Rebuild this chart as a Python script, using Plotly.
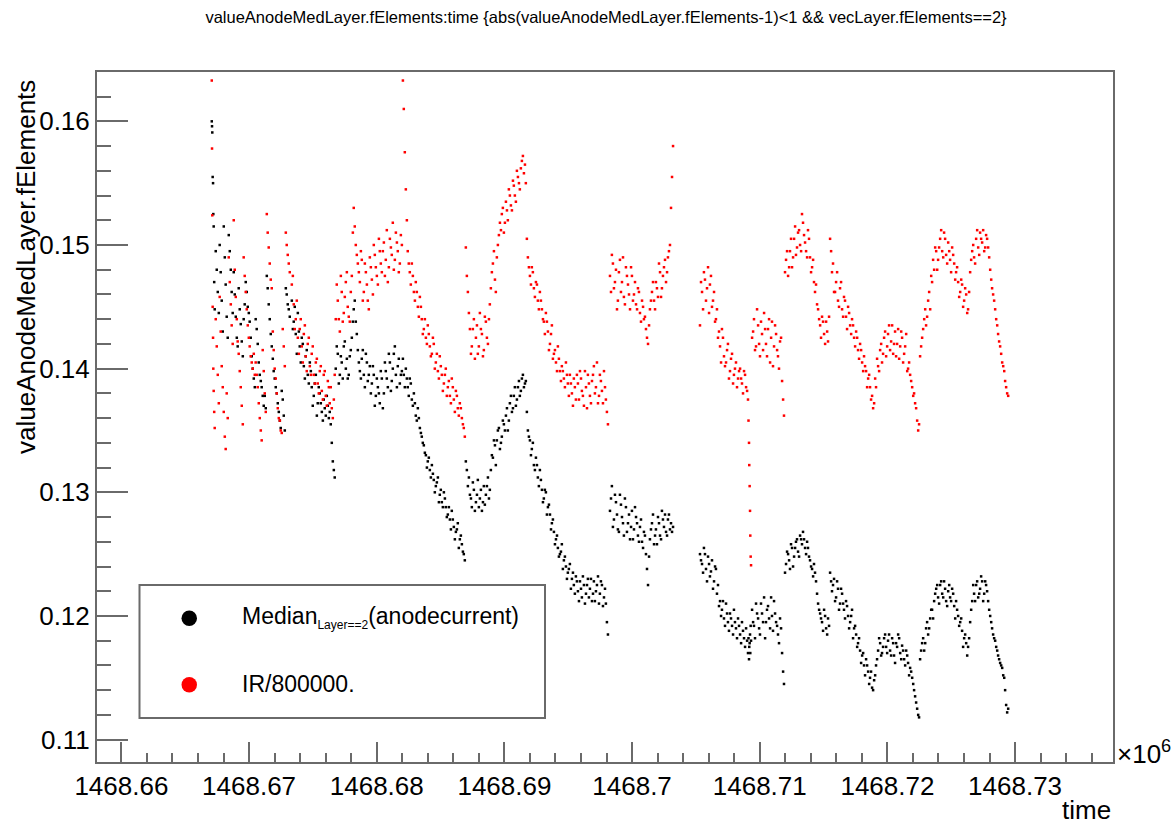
import plotly.graph_objects as go

# ---------------- data (time in units of 10^6 s) ----------------
time = [
    1468.66708, 1468.66710, 1468.66712, 1468.66715, 1468.66718, 1468.66720, 1468.66723, 1468.66727, 1468.66731,
    1468.66739, 1468.66747, 1468.66755, 1468.66763, 1468.66770, 1468.66778, 1468.66786, 1468.66794,
    1468.66802, 1468.66810, 1468.66817, 1468.66825, 1468.66833, 1468.66841, 1468.66849, 1468.66857, 1468.66864, 1468.66872,
    1468.66880, 1468.66888, 1468.66896, 1468.66904, 1468.66911, 1468.66919, 1468.66927, 1468.66935, 1468.66943, 1468.66951,
    1468.66958, 1468.66966, 1468.66974, 1468.66982, 1468.66990, 1468.66998, 1468.67005, 1468.67013, 1468.67021, 1468.67029,
    1468.67037, 1468.67045, 1468.67052, 1468.67060, 1468.67068, 1468.67076, 1468.67084, 1468.67092, 1468.67099, 1468.67107,
    1468.67115, 1468.67123, 1468.67131, 1468.67139, 1468.67146, 1468.67154, 1468.67162, 1468.67170, 1468.67178, 1468.67186,
    1468.67193, 1468.67201, 1468.67209, 1468.67217, 1468.67225, 1468.67233, 1468.67241, 1468.67248, 1468.67256, 1468.67264,
    1468.67272, 1468.67280, 1468.67288, 1468.67295, 1468.67303, 1468.67311, 1468.67319,
    # S2
    1468.67335, 1468.67350, 1468.67366, 1468.67382, 1468.67397, 1468.67413, 1468.67429, 1468.67444, 1468.67460, 1468.67476,
    1468.67491, 1468.67507, 1468.67523, 1468.67538, 1468.67554, 1468.67570, 1468.67585, 1468.67601, 1468.67617, 1468.67632,
    1468.67640, 1468.67648, 1468.67656, 1468.67664, 1468.67671, 1468.67679, 1468.67695, 1468.67711, 1468.67726, 1468.67742,
    1468.67758, 1468.67773, 1468.67789, 1468.67805, 1468.67820, 1468.67828, 1468.67836, 1468.67852, 1468.67868, 1468.67883,
    1468.67899, 1468.67915, 1468.67930, 1468.67946, 1468.67962, 1468.67977, 1468.67993, 1468.68009, 1468.68024, 1468.68040,
    1468.68056, 1468.68071, 1468.68087, 1468.68103, 1468.68118, 1468.68134, 1468.68150, 1468.68165, 1468.68181, 1468.68197,
    1468.68205, 1468.68212, 1468.68220, 1468.68228, 1468.68236,
    # S3
    1468.68243, 1468.68259, 1468.68275, 1468.68291, 1468.68306, 1468.68322, 1468.68338, 1468.68353, 1468.68369, 1468.68385,
    1468.68400, 1468.68416, 1468.68432, 1468.68447, 1468.68463, 1468.68479, 1468.68494, 1468.68510, 1468.68526, 1468.68541,
    1468.68557, 1468.68573, 1468.68588, 1468.68604, 1468.68620, 1468.68635, 1468.68651, 1468.68667, 1468.68682, 1468.68690,
    1468.68698, 1468.68706, 1468.68714, 1468.68730, 1468.68745, 1468.68761, 1468.68777, 1468.68792, 1468.68808, 1468.68824,
    1468.68839, 1468.68855, 1468.68871, 1468.68886, 1468.68902, 1468.68918, 1468.68933, 1468.68949, 1468.68965,
    # S4
    1468.68980, 1468.68996, 1468.69012, 1468.69027, 1468.69043, 1468.69059, 1468.69074, 1468.69090, 1468.69106, 1468.69121,
    1468.69137, 1468.69145, 1468.69153, 1468.69168, 1468.69176, 1468.69184, 1468.69200, 1468.69215, 1468.69231, 1468.69247,
    1468.69262, 1468.69278, 1468.69294, 1468.69309, 1468.69325, 1468.69341, 1468.69357, 1468.69372, 1468.69388, 1468.69404,
    1468.69419, 1468.69435, 1468.69450, 1468.69466, 1468.69482, 1468.69497, 1468.69513, 1468.69529, 1468.69544, 1468.69560,
    1468.69576, 1468.69592, 1468.69607, 1468.69623, 1468.69639, 1468.69654, 1468.69670, 1468.69686, 1468.69701, 1468.69717,
    1468.69733, 1468.69748, 1468.69764, 1468.69780, 1468.69795, 1468.69803, 1468.69811,
    # S5
    1468.69827, 1468.69842, 1468.69858, 1468.69874, 1468.69889, 1468.69905, 1468.69921, 1468.69936, 1468.69952, 1468.69968,
    1468.69984, 1468.69999, 1468.70015, 1468.70031, 1468.70046, 1468.70062, 1468.70078, 1468.70093, 1468.70109, 1468.70117,
    1468.70125, 1468.70140, 1468.70156, 1468.70172, 1468.70187, 1468.70203, 1468.70219, 1468.70234, 1468.70250, 1468.70266,
    1468.70281, 1468.70297, 1468.70305, 1468.70313, 1468.70321,
    # S6
    1468.70532, 1468.70548, 1468.70563, 1468.70579, 1468.70595, 1468.70610, 1468.70626, 1468.70642, 1468.70657, 1468.70673,
    1468.70689, 1468.70704, 1468.70720, 1468.70736, 1468.70751, 1468.70767, 1468.70783, 1468.70798, 1468.70814, 1468.70830,
    1468.70846, 1468.70861, 1468.70877, 1468.70893, 1468.70908, 1468.70912, 1468.70916, 1468.70918, 1468.70921, 1468.70924,
    1468.70926, 1468.70929, 1468.70932, 1468.70940, 1468.70955, 1468.70971, 1468.70987, 1468.71002, 1468.71018, 1468.71034,
    1468.71049, 1468.71065, 1468.71081, 1468.71096, 1468.71112, 1468.71128, 1468.71143, 1468.71159, 1468.71175, 1468.71183,
    1468.71190,
    # S7
    1468.71206, 1468.71222, 1468.71237, 1468.71253, 1468.71269, 1468.71284, 1468.71300, 1468.71316, 1468.71331, 1468.71347,
    1468.71363, 1468.71378, 1468.71394, 1468.71410, 1468.71425, 1468.71441, 1468.71457, 1468.71473, 1468.71488, 1468.71504,
    1468.71520, 1468.71535, 1468.71551, 1468.71559, 1468.71566, 1468.71582, 1468.71598, 1468.71613, 1468.71629, 1468.71645,
    1468.71660, 1468.71676, 1468.71692, 1468.71708, 1468.71723, 1468.71739, 1468.71755, 1468.71770, 1468.71786, 1468.71802,
    1468.71817, 1468.71833, 1468.71849, 1468.71864, 1468.71880, 1468.71896, 1468.71911, 1468.71927, 1468.71943, 1468.71958,
    1468.71974, 1468.71990,
    # S8
    1468.72005, 1468.72021, 1468.72037, 1468.72052, 1468.72068, 1468.72084, 1468.72100, 1468.72115, 1468.72131, 1468.72147,
    1468.72162, 1468.72178, 1468.72194, 1468.72209, 1468.72225, 1468.72233, 1468.72241, 1468.72248, 1468.72256, 1468.72272,
    1468.72288, 1468.72303, 1468.72319, 1468.72335, 1468.72350, 1468.72366, 1468.72382, 1468.72397, 1468.72413, 1468.72429,
    1468.72444, 1468.72460, 1468.72476, 1468.72491, 1468.72507, 1468.72523, 1468.72538, 1468.72554, 1468.72570, 1468.72585,
    1468.72601, 1468.72617, 1468.72632, 1468.72648, 1468.72664, 1468.72679, 1468.72695, 1468.72711, 1468.72726, 1468.72742,
    1468.72758, 1468.72773, 1468.72789, 1468.72805, 1468.72820, 1468.72836, 1468.72852, 1468.72867, 1468.72883, 1468.72899,
    1468.72915, 1468.72922, 1468.72930, 1468.72938, 1468.72946,
    # interleaved samples S2
    1468.67343, 1468.67358, 1468.67374, 1468.67390, 1468.67405, 1468.67421, 1468.67437, 1468.67452, 1468.67468, 1468.67484,
    1468.67499, 1468.67515, 1468.67531, 1468.67546, 1468.67562, 1468.67578, 1468.67593, 1468.67609, 1468.67625,
    1468.67687, 1468.67703, 1468.67719, 1468.67734, 1468.67750, 1468.67766, 1468.67781, 1468.67797, 1468.67813,
    1468.67844, 1468.67860, 1468.67876, 1468.67891, 1468.67907, 1468.67923, 1468.67938, 1468.67954, 1468.67970, 1468.67985,
    1468.68001, 1468.68017, 1468.68032, 1468.68048, 1468.68064, 1468.68079, 1468.68095, 1468.68111, 1468.68126, 1468.68142,
    1468.68158, 1468.68173, 1468.68189,
    # interleaved samples S3
    1468.68251, 1468.68267, 1468.68283, 1468.68299, 1468.68314, 1468.68330, 1468.68346, 1468.68361, 1468.68377, 1468.68393,
    1468.68408, 1468.68424, 1468.68440, 1468.68455, 1468.68471, 1468.68487, 1468.68502, 1468.68518, 1468.68534, 1468.68549,
    1468.68565, 1468.68581, 1468.68596, 1468.68612, 1468.68628, 1468.68643, 1468.68659, 1468.68675,
    1468.68722, 1468.68738, 1468.68753, 1468.68769, 1468.68785, 1468.68800, 1468.68816, 1468.68832, 1468.68847, 1468.68863,
    1468.68879, 1468.68894, 1468.68910, 1468.68926, 1468.68941, 1468.68957,
    # interleaved samples S4
    1468.68973, 1468.68988, 1468.69004, 1468.69020, 1468.69035, 1468.69051, 1468.69067, 1468.69082, 1468.69098, 1468.69114,
    1468.69129, 1468.69161,
    1468.69192, 1468.69208, 1468.69223, 1468.69239, 1468.69255, 1468.69270, 1468.69286, 1468.69302, 1468.69317, 1468.69333,
    1468.69349, 1468.69365, 1468.69380, 1468.69396, 1468.69412, 1468.69427, 1468.69443, 1468.69458, 1468.69474, 1468.69490,
    1468.69505, 1468.69521, 1468.69537, 1468.69552, 1468.69568, 1468.69584, 1468.69600, 1468.69615, 1468.69631, 1468.69647,
    1468.69662, 1468.69678, 1468.69694, 1468.69709, 1468.69725, 1468.69741, 1468.69756, 1468.69772, 1468.69788,
    # interleaved samples S5
    1468.69835, 1468.69850, 1468.69866, 1468.69882, 1468.69897, 1468.69913, 1468.69929, 1468.69944, 1468.69960, 1468.69976,
    1468.69992, 1468.70007, 1468.70023, 1468.70039, 1468.70054, 1468.70070, 1468.70086, 1468.70101,
    1468.70133, 1468.70148, 1468.70164, 1468.70180, 1468.70195, 1468.70211, 1468.70227, 1468.70242, 1468.70258, 1468.70274,
    1468.70289,
    # interleaved samples S6
    1468.70540, 1468.70556, 1468.70571, 1468.70587, 1468.70603, 1468.70618, 1468.70634, 1468.70650, 1468.70665, 1468.70681,
    1468.70697, 1468.70712, 1468.70728, 1468.70744, 1468.70759, 1468.70775, 1468.70791, 1468.70806, 1468.70822, 1468.70838,
    1468.70854, 1468.70869, 1468.70885, 1468.70901,
    1468.70948, 1468.70963, 1468.70979, 1468.70995, 1468.71010, 1468.71026, 1468.71042, 1468.71057, 1468.71073, 1468.71089,
    1468.71104, 1468.71120, 1468.71136, 1468.71151, 1468.71167,
    # interleaved samples S7
    1468.71198, 1468.71214, 1468.71230, 1468.71245, 1468.71261, 1468.71277, 1468.71292, 1468.71308, 1468.71324, 1468.71339,
    1468.71355, 1468.71371, 1468.71386, 1468.71402, 1468.71418, 1468.71433, 1468.71449, 1468.71465, 1468.71480, 1468.71496,
    1468.71512, 1468.71528, 1468.71543,
    1468.71574, 1468.71590, 1468.71606, 1468.71621, 1468.71637, 1468.71653, 1468.71668, 1468.71684, 1468.71700, 1468.71716,
    1468.71731, 1468.71747, 1468.71763, 1468.71778, 1468.71794, 1468.71810, 1468.71825, 1468.71841, 1468.71857, 1468.71872,
    1468.71888, 1468.71904, 1468.71919, 1468.71935, 1468.71951, 1468.71966, 1468.71982,
    # interleaved samples S8
    1468.71998, 1468.72013, 1468.72029, 1468.72045, 1468.72060, 1468.72076, 1468.72092, 1468.72108, 1468.72123, 1468.72139,
    1468.72155, 1468.72170, 1468.72186, 1468.72202, 1468.72217,
    1468.72264, 1468.72280, 1468.72296, 1468.72311, 1468.72327, 1468.72343, 1468.72358, 1468.72374, 1468.72390, 1468.72405,
    1468.72421, 1468.72437, 1468.72452, 1468.72468, 1468.72484, 1468.72499, 1468.72515, 1468.72531, 1468.72546, 1468.72562,
    1468.72578, 1468.72593, 1468.72609, 1468.72625, 1468.72640, 1468.72656, 1468.72672, 1468.72687, 1468.72703, 1468.72719,
    1468.72734, 1468.72750, 1468.72766, 1468.72781, 1468.72797, 1468.72813, 1468.72828, 1468.72844, 1468.72860, 1468.72875,
    1468.72891, 1468.72907,
]

median_anode = [
    .1600, .1596, .1591, .1555, .1550, .1525, .1515, .1470, .1448,
    .1495, .1480, .1462, .1445, .1500, .1478, .1455, .1430,
    .1515, .1490, .1468, .1442, .1425, .1508, .1495, .1480, .1462, .1445,
    .1478, .1460, .1442, .1425, .1418, .1465, .1448, .1436, .1422, .1410,
    .1440, .1452, .1470, .1462, .1450, .1445, .1438, .1425, .1410, .1400,
    .1392, .1385, .1440, .1432, .1420, .1405, .1395, .1390, .1385, .1378,
    .1370, .1378, .1368, .1475, .1465, .1452, .1440, .1428, .1418, .1408,
    .1398, .1392, .1385, .1380, .1372, .1365, .1358, .1352, .1382, .1375,
    .1362, .1350, .1465, .1460, .1452, .1448, .1442,
    # S2
    .1455, .1438, .1428, .1445, .1418, .1425, .1402, .1410, .1395, .1405,
    .1385, .1378, .1395, .1372, .1380, .1365, .1375, .1362, .1370, .1365,
    .1355, .1340, .1325, .1318, .1312, .1400, .1412, .1395, .1405, .1418,
    .1400, .1392, .1410, .1425, .1448, .1455, .1438, .1415, .1398, .1408,
    .1395, .1412, .1390, .1402, .1388, .1395, .1378, .1385, .1372, .1392,
    .1380, .1398, .1385, .1405, .1390, .1412, .1395, .1402, .1388, .1398,
    .1408, .1395, .1385, .1400, .1392,
    # S3
    .1385, .1392, .1375, .1380, .1362, .1368, .1352, .1345, .1338, .1330,
    .1325, .1318, .1322, .1310, .1305, .1312, .1298, .1292, .1300, .1288,
    .1282, .1278, .1285, .1272, .1268, .1275, .1262, .1258, .1250, .1245,
    .1325, .1318, .1305, .1298, .1288, .1302, .1292, .1310, .1295, .1285,
    .1305, .1298, .1312, .1302, .1330, .1342, .1322, .1350, .1335,
    # S4
    .1345, .1355, .1362, .1350, .1372, .1365, .1378, .1370, .1385, .1378,
    .1392, .1395, .1385, .1390, .1365, .1350, .1342, .1335, .1322, .1328,
    .1312, .1318, .1302, .1295, .1300, .1288, .1282, .1275, .1268, .1262,
    .1255, .1250, .1258, .1245, .1240, .1235, .1242, .1230, .1225, .1232,
    .1220, .1228, .1215, .1225, .1218, .1230, .1222, .1212, .1228, .1220,
    .1232, .1218, .1225, .1215, .1210, .1195, .1185,
    # S5
    .1285, .1305, .1278, .1292, .1270, .1298, .1280, .1265, .1288, .1275,
    .1262, .1285, .1270, .1280, .1265, .1272, .1260, .1268, .1250, .1238,
    .1225, .1262, .1275, .1258, .1270, .1280, .1265, .1285, .1272, .1268,
    .1278, .1270, .1275, .1268, .1272,
    # S6
    .1250, .1242, .1255, .1238, .1248, .1232, .1245, .1228, .1238, .1225,
    .1212, .1205, .1198, .1210, .1195, .1202, .1192, .1205, .1190, .1198,
    .1185, .1195, .1182, .1190, .1170, .1182, .1165, .1175, .1178, .1185,
    .1170, .1192, .1180, .1205, .1192, .1210, .1198, .1185, .1202, .1215,
    .1195, .1208, .1190, .1200, .1212, .1195, .1185, .1198, .1170, .1155,
    .1145,
    # S7
    .1242, .1250, .1238, .1255, .1248, .1260, .1252, .1265, .1258, .1262,
    .1250, .1255, .1245, .1238, .1242, .1228, .1210, .1202, .1195, .1205,
    .1190, .1198, .1235, .1228, .1220, .1230, .1215, .1222, .1210, .1218,
    .1205, .1212, .1200, .1195, .1205, .1190, .1185, .1178, .1172, .1168,
    .1160, .1165, .1155, .1150, .1142, .1148, .1160, .1172, .1178, .1170,
    .1182, .1175,
    # S8
    .1180, .1172, .1182, .1168, .1178, .1185, .1170, .1176, .1165, .1172,
    .1162, .1158, .1150, .1140, .1130, .1125, .1120, .1118, .1165, .1178,
    .1172, .1190, .1185, .1198, .1205, .1212, .1222, .1215, .1225, .1218,
    .1228, .1212, .1220, .1215, .1222, .1208, .1212, .1200, .1195, .1188,
    .1182, .1178, .1175, .1195, .1212, .1218, .1225, .1215, .1222, .1228,
    .1218, .1225, .1212, .1200, .1190, .1182, .1175, .1168, .1162, .1158,
    .1150, .1140, .1128, .1122, .1125,
    # interleaved samples S2
    .1432, .1450, .1412, .1430, .1405, .1420, .1392, .1415, .1388, .1398,
    .1370, .1388, .1362, .1385, .1372, .1358, .1368, .1378, .1360,
    .1418, .1388, .1410, .1392, .1422, .1408, .1395, .1415, .1438,
    .1428, .1405, .1392, .1415, .1385, .1405, .1395, .1380, .1402, .1370,
    .1392, .1380, .1398, .1368, .1405, .1392, .1412, .1382, .1400, .1418,
    .1385, .1408, .1395,
    # interleaved samples S3
    .1378, .1388, .1370, .1372, .1358, .1360, .1348, .1340, .1332, .1320,
    .1328, .1312, .1315, .1300, .1308, .1292, .1302, .1288, .1295, .1280,
    .1288, .1270, .1278, .1262, .1270, .1255, .1265, .1252,
    .1312, .1295, .1308, .1285, .1298, .1288, .1302, .1292, .1290, .1305,
    .1295, .1318, .1328, .1338, .1342, .1352,
    # interleaved samples S4
    .1340, .1358, .1350, .1368, .1358, .1378, .1368, .1385, .1375, .1390,
    .1382, .1388,
    .1345, .1330, .1340, .1318, .1322, .1305, .1310, .1292, .1302, .1282,
    .1290, .1270, .1278, .1258, .1265, .1248, .1252, .1238, .1248, .1230,
    .1238, .1222, .1235, .1218, .1228, .1212, .1222, .1232, .1210, .1225,
    .1215, .1230, .1218, .1212, .1225, .1210, .1228, .1208, .1222,
    # interleaved samples S5
    .1295, .1272, .1298, .1282, .1268, .1290, .1275, .1295, .1268, .1282,
    .1272, .1262, .1288, .1275, .1260, .1278, .1255, .1265,
    .1248, .1270, .1282, .1265, .1258, .1275, .1262, .1278, .1282, .1265,
    .1282,
    # interleaved samples S6
    .1245, .1235, .1250, .1228, .1242, .1236, .1222, .1240, .1218, .1208,
    .1200, .1212, .1192, .1202, .1188, .1198, .1185, .1195, .1182, .1192,
    .1178, .1188, .1175, .1180,
    .1195, .1182, .1202, .1190, .1210, .1195, .1182, .1205, .1198, .1215,
    .1188, .1202, .1192, .1178, .1190,
    # interleaved samples S7
    .1235, .1252, .1245, .1258, .1240, .1255, .1262, .1248, .1262, .1268,
    .1255, .1260, .1248, .1240, .1232, .1235, .1218, .1205, .1198, .1188,
    .1200, .1185, .1192,
    .1225, .1212, .1228, .1205, .1222, .1210, .1198, .1208, .1190, .1200,
    .1182, .1192, .1175, .1182, .1162, .1170, .1152, .1160, .1145, .1155,
    .1140, .1152, .1165, .1182, .1168, .1175, .1185,
    # interleaved samples S8
    .1170, .1185, .1168, .1178, .1162, .1175, .1182, .1165, .1172, .1160,
    .1168, .1152, .1155, .1145, .1135,
    .1172, .1182, .1178, .1195, .1190, .1205, .1198, .1218, .1225, .1210,
    .1228, .1215, .1222, .1208, .1225, .1212, .1218, .1198, .1205, .1192,
    .1198, .1175, .1185, .1168, .1182, .1205, .1225, .1212, .1228, .1218,
    .1232, .1212, .1228, .1220, .1205, .1195, .1185, .1180, .1172, .1165,
    .1160, .1152,
]

ir_scaled = [
    .1633, .1578, .1524, .1450, .1425, .1400, .1382, .1365, .1352,
    .1440, .1418, .1395, .1372, .1458, .1430, .1402, .1385,
    .1365, .1345, .1335, .1380, .1360, .1490, .1470, .1452, .1435, .1420,
    .1520, .1480, .1458, .1440, .1422, .1412, .1398, .1385, .1370, .1355,
    .1490, .1475, .1462, .1448, .1435, .1425, .1418, .1410, .1405, .1400,
    .1412, .1395, .1405, .1395, .1385, .1372, .1360, .1350, .1342, .1415,
    .1398, .1380, .1365, .1525, .1510, .1498, .1485, .1472, .1465, .1430,
    .1415, .1400, .1392, .1380, .1368, .1360, .1358, .1350, .1348, .1432,
    .1418, .1402, .1510, .1500, .1492, .1485, .1478,
    # S2
    .1468, .1452, .1440, .1425, .1432, .1418, .1428, .1410, .1420, .1402,
    .1412, .1395, .1405, .1388, .1398, .1382, .1395, .1378, .1390, .1372,
    .1385, .1368, .1360, .1375, .1395, .1440, .1455, .1430, .1462, .1445,
    .1470, .1450, .1438, .1475, .1530, .1515, .1500, .1485, .1470, .1488,
    .1462, .1478, .1455, .1490, .1472, .1500, .1482, .1468, .1495, .1478,
    .1502, .1488, .1470, .1505, .1492, .1480, .1510, .1495, .1485, .1500,
    .1633, .1610, .1575, .1545, .1520,
    # S3
    .1495, .1478, .1485, .1462, .1470, .1450, .1458, .1440, .1432, .1425,
    .1435, .1418, .1412, .1420, .1405, .1398, .1410, .1395, .1388, .1400,
    .1385, .1378, .1392, .1375, .1382, .1368, .1372, .1360, .1352, .1345,
    .1498, .1475, .1462, .1432, .1418, .1440, .1425, .1412, .1445, .1428,
    .1415, .1438, .1420, .1452, .1478, .1495, .1462, .1500, .1518,
    # S4
    .1525, .1510, .1535, .1520, .1540, .1528, .1548, .1535, .1555, .1545,
    .1568, .1572, .1558, .1550, .1505, .1490, .1475, .1482, .1465, .1470,
    .1455, .1462, .1448, .1438, .1445, .1430, .1420, .1435, .1412, .1405,
    .1418, .1398, .1402, .1392, .1405, .1388, .1395, .1380, .1392, .1375,
    .1388, .1398, .1382, .1370, .1385, .1395, .1378, .1390, .1402, .1385,
    .1372, .1395, .1382, .1398, .1375, .1365, .1355,
    # S5
    .1475, .1492, .1465, .1480, .1455, .1488, .1470, .1458, .1482, .1468,
    .1448, .1475, .1460, .1452, .1465, .1445, .1455, .1440, .1432, .1425,
    .1420, .1448, .1462, .1455, .1470, .1458, .1478, .1465, .1482, .1470,
    .1490, .1500, .1530, .1555, .1580,
    # S6
    .1435, .1462, .1478, .1455, .1482, .1468, .1450, .1462, .1440, .1425,
    .1418, .1432, .1410, .1405, .1420, .1398, .1412, .1395, .1405, .1392,
    .1400, .1388, .1398, .1385, .1375, .1358, .1340, .1322, .1305, .1285,
    .1265, .1248, .1241, .1425, .1440, .1418, .1435, .1410, .1428, .1445,
    .1420, .1432, .1405, .1438, .1418, .1428, .1410, .1422, .1390, .1375,
    .1362,
    # S7
    .1488, .1475, .1495, .1482, .1505, .1492, .1510, .1500, .1525, .1508,
    .1495, .1512, .1490, .1482, .1470, .1468, .1448, .1435, .1442, .1428,
    .1438, .1422, .1505, .1495, .1478, .1462, .1470, .1455, .1465, .1448,
    .1458, .1442, .1450, .1435, .1440, .1425, .1430, .1415, .1420, .1405,
    .1410, .1398, .1392, .1385, .1378, .1372, .1385, .1402, .1415, .1405,
    .1425, .1410,
    # S8
    .1428, .1415, .1435, .1420, .1410, .1432, .1418, .1425, .1412, .1428,
    .1400, .1395, .1385, .1380, .1368, .1358, .1350, .1355, .1410, .1425,
    .1440, .1435, .1455, .1448, .1470, .1480, .1495, .1488, .1505, .1495,
    .1510, .1492, .1502, .1488, .1498, .1485, .1478, .1470, .1462, .1468,
    .1455, .1460, .1448, .1478, .1495, .1490, .1505, .1498, .1510, .1502,
    .1495, .1508, .1498, .1480, .1465, .1455, .1440, .1428, .1418, .1405,
    .1398, .1390, .1385, .1380, .1378,
    # interleaved samples S2
    .1475, .1432, .1455, .1412, .1440, .1405, .1435, .1398, .1425, .1395,
    .1418, .1388, .1408, .1380, .1402, .1375, .1398, .1370, .1385,
    .1468, .1440, .1475, .1438, .1458, .1478, .1442, .1462, .1510,
    .1492, .1478, .1495, .1455, .1485, .1468, .1448, .1482, .1460, .1492,
    .1475, .1505, .1485, .1495, .1475, .1512, .1482, .1498, .1518, .1488,
    .1502, .1478, .1508,
    # interleaved samples S3
    .1485, .1468, .1475, .1455, .1462, .1442, .1450, .1428, .1440, .1420,
    .1428, .1410, .1425, .1400, .1412, .1392, .1402, .1382, .1395, .1378,
    .1390, .1372, .1385, .1365, .1378, .1362, .1368, .1355,
    .1445, .1412, .1432, .1408, .1435, .1418, .1432, .1410, .1442, .1425,
    .1440, .1465, .1485, .1472, .1490, .1508,
    # interleaved samples S4
    .1512, .1530, .1518, .1528, .1545, .1532, .1552, .1540, .1560, .1550,
    .1562, .1565,
    .1482, .1468, .1478, .1458, .1468, .1448, .1455, .1440, .1428, .1438,
    .1415, .1428, .1408, .1415, .1398, .1408, .1390, .1398, .1385, .1395,
    .1378, .1388, .1370, .1385, .1395, .1375, .1392, .1378, .1398, .1368,
    .1388, .1372, .1395, .1380, .1405, .1378, .1390, .1372, .1385,
    # interleaved samples S5
    .1462, .1485, .1470, .1448, .1478, .1462, .1490, .1452, .1475, .1460,
    .1482, .1455, .1470, .1448, .1462, .1438, .1450, .1442,
    .1435, .1455, .1470, .1448, .1465, .1485, .1458, .1475, .1488, .1478,
    .1495,
    # interleaved samples S6
    .1470, .1448, .1472, .1465, .1445, .1475, .1455, .1438, .1448, .1430,
    .1405, .1425, .1402, .1415, .1392, .1408, .1388, .1400, .1385, .1398,
    .1392, .1380, .1395, .1382,
    .1430, .1415, .1448, .1420, .1438, .1415, .1432, .1410, .1440, .1425,
    .1402, .1435, .1415, .1400, .1425,
    # interleaved samples S7
    .1478, .1495, .1482, .1505, .1490, .1515, .1498, .1512, .1495, .1518,
    .1502, .1490, .1505, .1478, .1488, .1462, .1452, .1440, .1425, .1438,
    .1420, .1430, .1442,
    .1485, .1462, .1478, .1450, .1470, .1442, .1455, .1432, .1445, .1428,
    .1435, .1418, .1425, .1408, .1415, .1398, .1402, .1385, .1395, .1375,
    .1368, .1392, .1408, .1398, .1420, .1412, .1430,
    # interleaved samples S8
    .1418, .1435, .1422, .1412, .1430, .1420, .1408, .1430, .1405, .1418,
    .1398, .1405, .1390, .1378, .1372,
    .1418, .1432, .1448, .1442, .1462, .1475, .1488, .1498, .1480, .1498,
    .1512, .1490, .1505, .1485, .1495, .1478, .1492, .1472, .1482, .1458,
    .1472, .1450, .1465, .1445, .1462, .1488, .1500, .1485, .1512, .1492,
    .1505, .1512, .1498, .1505, .1490, .1472, .1460, .1448, .1435, .1422,
    .1412, .1402,
]

assert len(time) == len(median_anode) == len(ir_scaled), (len(time), len(median_anode), len(ir_scaled))

x_tickvals = [1468.66, 1468.67, 1468.68, 1468.69, 1468.70, 1468.71, 1468.72, 1468.73]
x_ticktext = ["1468.66", "1468.67", "1468.68", "1468.69", "1468.7", "1468.71", "1468.72", "1468.73"]
y_tickvals = [0.11, 0.12, 0.13, 0.14, 0.15, 0.16]
y_ticktext = ["0.11", "0.12", "0.13", "0.14", "0.15", "0.16"]
x_range = [1468.65809, 1468.73767]
y_range = [0.10819, 0.16399]

series_names = ["Median<sub>Layer==2</sub>(anodecurrent)", "IR/800000."]
series_colors = ["#000000", "#ff0000"]

# ---------------- layout geometry ----------------
W, H = 1174, 825
ML, MR, MT, MB = 97, 61, 72, 63
PW, PH = W - ML - MR, H - MT - MB
FONT = "Liberation Sans, Arial, Helvetica, sans-serif"
FRAME = "#6a6a6a"


def pxx(x):
    return (x - ML) / PW


def pxy(y):
    return (H - MB - y) / PH


fig = go.Figure()
fig.add_trace(go.Scatter(x=time, y=median_anode, mode="markers", name=series_names[0],
                         marker=dict(color=series_colors[0], size=2.5, symbol="square"),
                         showlegend=False))
fig.add_trace(go.Scatter(x=time, y=ir_scaled, mode="markers", name=series_names[1],
                         marker=dict(color=series_colors[1], size=2.5, symbol="square"),
                         showlegend=False))

axis_common = dict(showline=True, mirror=True, linecolor=FRAME, linewidth=2,
                   showgrid=False, zeroline=False, ticks="inside", tickcolor=FRAME, tickwidth=2,
                   tickfont=dict(family=FONT, size=26, color="#000"))

fig.update_xaxes(range=x_range, tickvals=x_tickvals, ticktext=x_ticktext, ticklen=20,
                 minor=dict(dtick=0.002, tick0=1468.66, ticklen=9, tickwidth=2, tickcolor=FRAME,
                            ticks="inside", showgrid=False),
                 **axis_common)
fig.update_yaxes(range=y_range, tickvals=y_tickvals, ticktext=y_ticktext, ticklen=31,
                 minor=dict(dtick=0.002, tick0=0.11, ticklen=14, tickwidth=2, tickcolor=FRAME,
                            ticks="inside", showgrid=False),
                 **axis_common)

shapes = [
    dict(type="rect", xref="paper", yref="paper", x0=pxx(139.5), x1=pxx(545), y0=pxy(718), y1=pxy(585),
         line=dict(color=FRAME, width=2), fillcolor="white", layer="above"),
    dict(type="circle", xref="paper", yref="paper", x0=pxx(181.5), x1=pxx(197), y0=pxy(626), y1=pxy(610.5),
         line=dict(width=0), fillcolor=series_colors[0], layer="above"),
    dict(type="circle", xref="paper", yref="paper", x0=pxx(181.5), x1=pxx(197), y0=pxy(692.5), y1=pxy(677),
         line=dict(width=0), fillcolor=series_colors[1], layer="above"),
]

annotations = [
    dict(text='Median<sub><span style="font-size:12px">Layer==2</span></sub>(anodecurrent)',
         xref="paper", yref="paper", x=pxx(240), y=pxy(617), xanchor="left", yanchor="middle",
         showarrow=False, font=dict(family=FONT, size=23, color="#000")),
    dict(text="IR/800000.", xref="paper", yref="paper", x=pxx(240), y=pxy(684), xanchor="left",
         yanchor="middle", showarrow=False, font=dict(family=FONT, size=23, color="#000")),
    dict(text="valueAnodeMedLayer.fElements", xref="paper", yref="paper", x=pxx(26), y=pxy(78),
         xanchor="center", yanchor="top", textangle=-90, showarrow=False,
         font=dict(family=FONT, size=26, color="#000")),
    dict(text="time", xref="paper", yref="paper", x=1.0, y=pxy(810), xanchor="right", yanchor="middle",
         showarrow=False, font=dict(family=FONT, size=26, color="#000")),
    dict(text="\u00d710<sup>6</sup>", xref="paper", yref="paper", x=pxx(1115), y=pxy(752),
         xanchor="left", yanchor="middle", showarrow=False, font=dict(family=FONT, size=26, color="#000")),
]

fig.update_layout(
    width=W, height=H,
    margin=dict(l=ML, r=MR, t=MT, b=MB, pad=0),
    paper_bgcolor="white", plot_bgcolor="white",
    title=dict(text="valueAnodeMedLayer.fElements:time {abs(valueAnodeMedLayer.fElements-1)&lt;1 &amp;&amp; vecLayer.fElements==2}",
               x=606 / W, xanchor="center", y=1 - 17 / H, yanchor="middle",
               font=dict(family=FONT, size=16.5, color="#000")),
    shapes=shapes, annotations=annotations, showlegend=False,
)

fig.write_html("out.html")
